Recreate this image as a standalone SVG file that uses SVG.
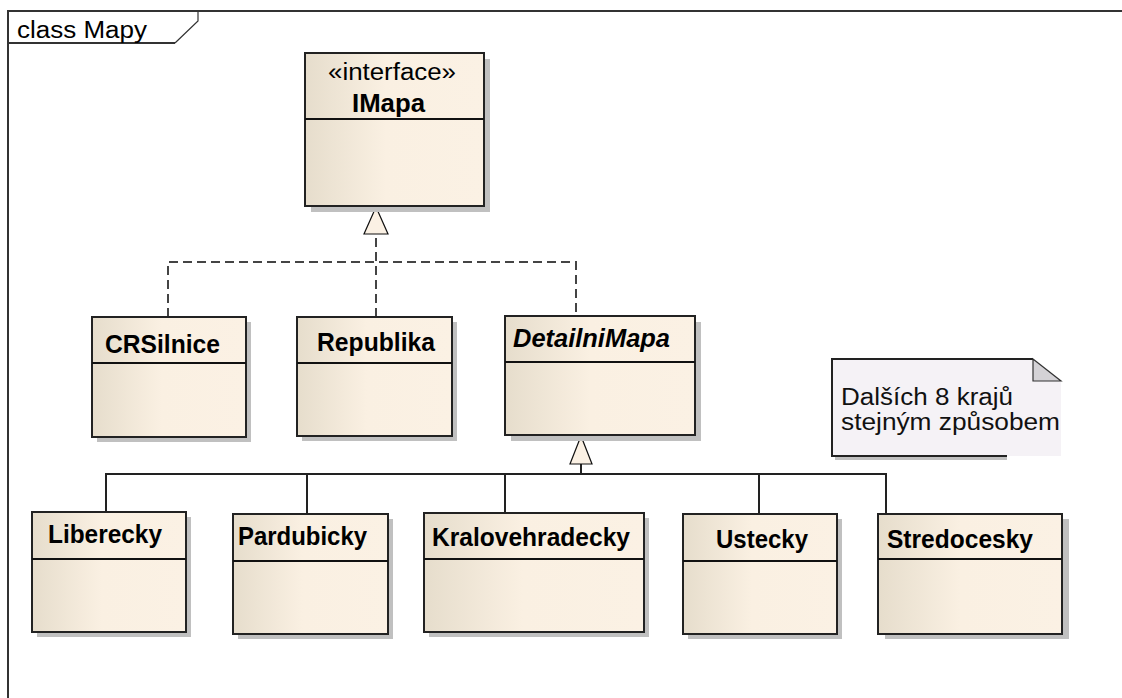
<svg xmlns="http://www.w3.org/2000/svg" width="1122" height="698" viewBox="0 0 1122 698">
<defs>
<linearGradient id="boxg" x1="0" y1="0" x2="1" y2="0">
<stop offset="0" stop-color="#e6ddcc"/>
<stop offset="0.45" stop-color="#faf0e2"/>
<stop offset="1" stop-color="#fbf1e4"/>
</linearGradient>
<style>
.shadow{fill:#c0c0c0;stroke:none}
.box{fill:url(#boxg);stroke:#222;stroke-width:1.3;shape-rendering:crispEdges}
.div{stroke:#111;stroke-width:1.3;shape-rendering:crispEdges}
.name{font-family:"Liberation Sans",Arial,sans-serif;font-weight:bold;font-size:25px;fill:#000}
.reg{font-family:"Liberation Sans",Arial,sans-serif;font-size:23px;fill:#000}
.note{font-family:"Liberation Sans",Arial,sans-serif;font-size:23px;fill:#111}
.real{fill:none;stroke:#444;stroke-width:1.3;stroke-dasharray:9 5;shape-rendering:crispEdges}
.gen{fill:none;stroke:#222;stroke-width:1.3;shape-rendering:crispEdges}
.tri{fill:#fbf1e4;stroke:#111;stroke-width:1.2}
.frame{fill:none;stroke:#333;stroke-width:1.3;shape-rendering:crispEdges}
</style>
</defs>
<rect width="1122" height="698" fill="#fff"/>
<g id="frame">
<path class="frame" d="M8,698 V11 H1122"/>
<path class="frame" d="M8,43 H175"/>
<path d="M175,43 L198,21 V11" fill="none" stroke="#333" stroke-width="1.2"/>
<text class="reg" x="17" y="38" textLength="130" lengthAdjust="spacingAndGlyphs">class Mapy</text>
</g>
<g id="connectors">
<path class="real" d="M168,317 V262 H576 V316"/>
<path class="real" d="M376,317 V234"/>
<polygon class="tri" points="376,207 364,234 388,234"/>
<path class="gen" d="M106,512 V474 H886 V514"/>
<path class="gen" d="M307,474 V514"/>
<path class="gen" d="M505,474 V513"/>
<path class="gen" d="M759,474 V514"/>
<path class="gen" d="M581,474 V464"/>
<polygon class="tri" points="581,436 570,464 592,464"/>
</g>
<g id="IMapa">
<rect class="shadow" x="311" y="59" width="179" height="153"/>
<rect class="box" x="305" y="53" width="179" height="153"/>
<line class="div" x1="305" y1="119" x2="484" y2="119"/>
<text class="reg" x="328" y="80" textLength="128" lengthAdjust="spacingAndGlyphs">«interface»</text>
<text class="name" x="352" y="112" textLength="73" lengthAdjust="spacingAndGlyphs">IMapa</text>
</g>
<g id="CRSilnice">
<rect class="shadow" x="97" y="322" width="154" height="120"/>
<rect class="box" x="92" y="317" width="154" height="120"/>
<line class="div" x1="92" y1="363" x2="246" y2="363"/>
<text class="name" x="105" y="353" textLength="115" lengthAdjust="spacingAndGlyphs">CRSilnice</text>
</g>
<g id="Republika">
<rect class="shadow" x="302" y="322" width="155" height="119"/>
<rect class="box" x="297" y="317" width="155" height="119"/>
<line class="div" x1="297" y1="363" x2="452" y2="363"/>
<text class="name" x="317" y="351" textLength="118" lengthAdjust="spacingAndGlyphs">Republika</text>
</g>
<g id="DetailniMapa">
<rect class="shadow" x="511" y="322" width="190" height="119"/>
<rect class="box" x="505" y="316" width="190" height="119"/>
<line class="div" x1="505" y1="362" x2="695" y2="362"/>
<text class="name" x="513" y="347" font-style="italic" textLength="157" lengthAdjust="spacingAndGlyphs">DetailniMapa</text>
</g>
<g id="note">
<rect x="835" y="456" width="172" height="4" fill="#c0c0c0"/>
<path d="M832,359 H1033 L1061,381 V456 H832 Z" fill="#f5f2f6"/>
<path d="M1007,456 H832 V359 H1033" fill="none" stroke="#222" stroke-width="1.3" shape-rendering="crispEdges"/>
<path d="M1033,359 V381 H1061 Z" fill="#d4d2d6" stroke="#333" stroke-width="1.2"/>
<text class="note" x="841" y="405" textLength="172" lengthAdjust="spacingAndGlyphs">Dalších 8 krajů</text>
<text class="note" x="841" y="430" textLength="219" lengthAdjust="spacingAndGlyphs">stejným způsobem</text>
</g>
<g id="Liberecky">
<rect class="shadow" x="37" y="517" width="154" height="120"/>
<rect class="box" x="32" y="512" width="154" height="120"/>
<line class="div" x1="32" y1="559" x2="186" y2="559"/>
<text class="name" x="48" y="543" textLength="114" lengthAdjust="spacingAndGlyphs">Liberecky</text>
</g>
<g id="Pardubicky">
<rect class="shadow" x="238" y="519" width="155" height="120"/>
<rect class="box" x="233" y="514" width="155" height="120"/>
<line class="div" x1="233" y1="561" x2="388" y2="561"/>
<text class="name" x="238" y="545" textLength="129" lengthAdjust="spacingAndGlyphs">Pardubicky</text>
</g>
<g id="Kralovehradecky">
<rect class="shadow" x="429" y="518" width="220" height="119"/>
<rect class="box" x="424" y="513" width="220" height="119"/>
<line class="div" x1="424" y1="559" x2="644" y2="559"/>
<text class="name" x="432" y="546" textLength="198" lengthAdjust="spacingAndGlyphs">Kralovehradecky</text>
</g>
<g id="Ustecky">
<rect class="shadow" x="688" y="519" width="154" height="120"/>
<rect class="box" x="683" y="514" width="154" height="120"/>
<line class="div" x1="683" y1="561" x2="837" y2="561"/>
<text class="name" x="716" y="548" textLength="92" lengthAdjust="spacingAndGlyphs">Ustecky</text>
</g>
<g id="Stredocesky">
<rect class="shadow" x="885" y="519" width="184" height="120"/>
<rect class="box" x="878" y="514" width="184" height="120"/>
<line class="div" x1="878" y1="559" x2="1062" y2="559"/>
<text class="name" x="887" y="548" textLength="146" lengthAdjust="spacingAndGlyphs">Stredocesky</text>
</g>
</svg>
